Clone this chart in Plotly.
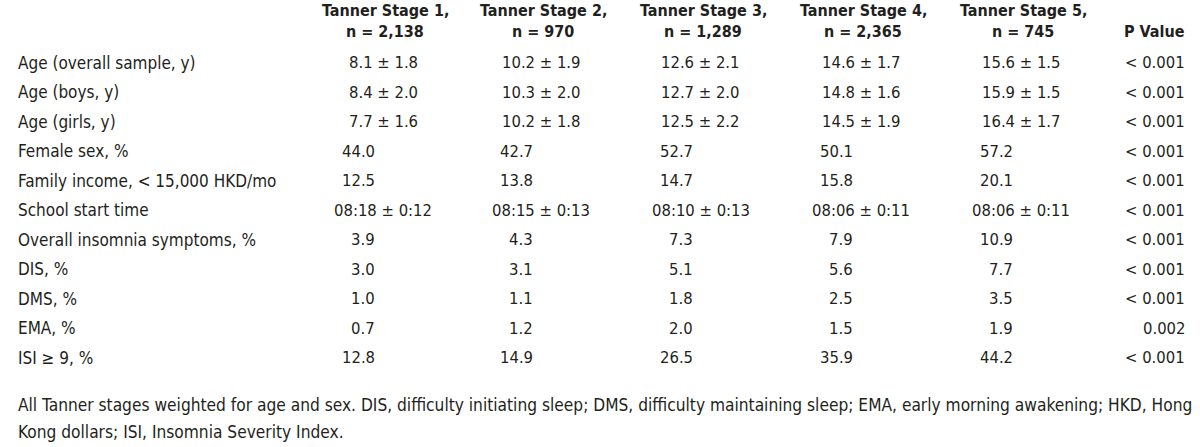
import plotly.graph_objects as go

# ---------------- data ----------------
stage_titles = ["Tanner Stage 1,", "Tanner Stage 2,", "Tanner Stage 3,", "Tanner Stage 4,", "Tanner Stage 5,"]
stage_ns = ["n = 2,138", "n = 970", "n = 1,289", "n = 2,365", "n = 745"]
p_header = "P Value"

row_labels = [
    "Age (overall sample, y)",
    "Age (boys, y)",
    "Age (girls, y)",
    "Female sex, %",
    "Family income, < 15,000 HKD/mo",
    "School start time",
    "Overall insomnia symptoms, %",
    "DIS, %",
    "DMS, %",
    "EMA, %",
    "ISI \u2265 9, %",
]

stage1 = ["8.1 ± 1.8", "8.4 ± 2.0", "7.7 ± 1.6", "44.0", "12.5", "08:18 ± 0:12", "3.9", "3.0", "1.0", "0.7", "12.8"]
stage2 = ["10.2 ± 1.9", "10.3 ± 2.0", "10.2 ± 1.8", "42.7", "13.8", "08:15 ± 0:13", "4.3", "3.1", "1.1", "1.2", "14.9"]
stage3 = ["12.6 ± 2.1", "12.7 ± 2.0", "12.5 ± 2.2", "52.7", "14.7", "08:10 ± 0:13", "7.3", "5.1", "1.8", "2.0", "26.5"]
stage4 = ["14.6 ± 1.7", "14.8 ± 1.6", "14.5 ± 1.9", "50.1", "15.8", "08:06 ± 0:11", "7.9", "5.6", "2.5", "1.5", "35.9"]
stage5 = ["15.6 ± 1.5", "15.9 ± 1.5", "16.4 ± 1.7", "57.2", "20.1", "08:06 ± 0:11", "10.9", "7.7", "3.5", "1.9", "44.2"]
p_values = ["< 0.001", "< 0.001", "< 0.001", "< 0.001", "< 0.001", "< 0.001", "< 0.001", "< 0.001", "< 0.001", "0.002", "< 0.001"]

footnote_lines = [
    "All Tanner stages weighted for age and sex. DIS, difficulty initiating sleep; DMS, difficulty maintaining sleep; EMA, early morning awakening; HKD, Hong",
    "Kong dollars; ISI, Insomnia Severity Index.",
]

# ---------------- layout constants ----------------
W, H = 1200, 447
FONT = "Liberation Sans Narrow, Arial Narrow, DejaVu Sans Condensed, sans-serif"
FS_LABEL = 17
FS_FOOT = 17.2
FS_VALUE = 16.5
FS_HEAD = 16
COLOR = "#231f20"
LABEL_X = 17
COL_CENTERS = [383, 541, 701, 861, 1021]
HEAD_SHIFT = 2
NUM_SHIFT = -7          # plain numbers are right-aligned a little left of centre
P_RIGHT = 1186
HEAD_Y = [10, 31]
ROW0, ROW_STEP = 62.7, 29.5
FOOT_Y = [405, 432]

stage_cols = [stage1, stage2, stage3, stage4, stage5]


def px(x):
    return x / W


def py(y):
    return 1 - y / H


def ann(text, x, y, anchor, size, bold=False):
    return dict(
        text=f"<b>{text}</b>" if bold else text,
        x=px(x), y=py(y), xref="paper", yref="paper",
        xanchor=anchor, yanchor="middle", showarrow=False,
        borderpad=0, font=dict(family=FONT, size=size, color=COLOR),
    )


annotations = []
# header
for c, t, n in zip(COL_CENTERS, stage_titles, stage_ns):
    annotations.append(ann(t, c + HEAD_SHIFT, HEAD_Y[0], "center", FS_HEAD, bold=True))
    annotations.append(ann(n, c + HEAD_SHIFT, HEAD_Y[1], "center", FS_HEAD, bold=True))
annotations.append(ann(p_header, P_RIGHT, HEAD_Y[1], "right", FS_HEAD, bold=True))

# body
for i, label in enumerate(row_labels):
    y = ROW0 + i * ROW_STEP
    annotations.append(ann(label, LABEL_X, y, "left", FS_LABEL))
    for c, col in zip(COL_CENTERS, stage_cols):
        v = col[i]
        if "±" in v:
            annotations.append(ann(v, c, y, "center", FS_VALUE))
        else:
            annotations.append(ann(v, c + NUM_SHIFT, y, "right", FS_VALUE))
    annotations.append(ann(p_values[i], P_RIGHT, y, "right", FS_VALUE))

# footnote
for fy, line in zip(FOOT_Y, footnote_lines):
    annotations.append(ann(line, LABEL_X, fy, "left", FS_FOOT))

fig = go.Figure()
fig.update_layout(
    width=W, height=H,
    margin=dict(l=0, r=0, t=0, b=0),
    paper_bgcolor="white", plot_bgcolor="white",
    xaxis=dict(visible=False, range=[0, 1]),
    yaxis=dict(visible=False, range=[0, 1]),
    annotations=annotations,
    showlegend=False,
)
fig.write_html(
    "out.html",
    config={"displayModeBar": False},
    post_script="document.body.style.margin='0';document.body.style.overflow='hidden';",
)
